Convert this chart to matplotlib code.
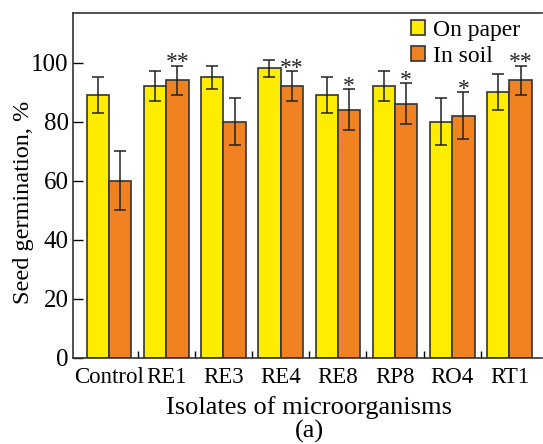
import matplotlib
matplotlib.use("Agg")
import matplotlib.pyplot as plt
import numpy as np

categories = ["Control", "RE1", "RE3", "RE4", "RE8", "RP8", "RO4", "RT1"]
paper = [89, 92, 95, 98, 89, 92, 80, 90]
paper_err = [6, 5, 4, 3, 6, 5, 8, 6]
soil = [60, 94, 80, 92, 84, 86, 82, 94]
soil_err = [10, 5, 8, 5, 7, 7, 8, 5]
soil_marks = ["", "**", "", "**", "*", "*", "*", "**"]
yticks = [0, 20, 40, 60, 80, 100]

plt.rcParams['font.family'] = ['Liberation Serif', 'DejaVu Serif']

W, H = 543, 444
fig = plt.figure(figsize=(W/100, H/100), dpi=100)
ax = fig.add_axes([73/W, 1-357.5/H, (542-73)/W, (357.5-13)/H])

x = np.arange(len(categories))
w = 0.39
yellow = "#FFED00"
orange = "#F08222"
edge = "#333333"
ekw = dict(ecolor="#222222", elinewidth=1.1, capsize=4, capthick=1.1)
ax.bar(x - w/2, paper, w, yerr=paper_err, color=yellow, edgecolor=edge,
       linewidth=1.2, error_kw=ekw, label="On paper", zorder=2)
ax.bar(x + w/2, soil, w, yerr=soil_err, color=orange, edgecolor=edge,
       linewidth=1.2, error_kw=ekw, label="In soil", zorder=2)

for xi, v, e, m in zip(x, soil, soil_err, soil_marks):
    if m:
        ax.text(xi + w/2, v + e + 1.0, m, ha='center', va='center',
                fontsize=17, color="#222222")

ax.set_xlim(-0.63, 7.57)
ax.set_ylim(0, 116.8)
ax.set_yticks(yticks)
ax.set_yticklabels([str(t) for t in yticks], fontsize=18)
ax.set_xticks(x)
ax.set_xticklabels(categories, fontsize=16.5)
ax.set_xticks(x[:-1] + 0.5, minor=True)
ax.tick_params(axis='x', which='major', length=0, pad=7)
ax.tick_params(axis='x', which='minor', direction='in', length=5, width=1)
ax.tick_params(axis='y', direction='in', length=7, width=1, pad=3)
for s in ['left', 'bottom', 'top']:
    ax.spines[s].set_linewidth(1.2)
    ax.spines[s].set_color("#333333")
ax.spines['right'].set_visible(False)

ax.set_ylabel("Seed germination, %", fontsize=17.5)
ax.yaxis.set_label_coords((34 - 73) / (542 - 73), (357.5 - 202) / (357.5 - 13))
fig.text(309/W, 1-408/H, "Isolates of microorganisms", fontsize=19,
         ha='center', va='center')
fig.text(309/W, 1-431/H, "(a)", fontsize=19, ha='center', va='center')

leg = fig.legend(loc='upper left', bbox_to_anchor=(411/W, 1-20/H), frameon=False,
                 fontsize=17, handlelength=0.6, handleheight=0.6,
                 handletextpad=0.35, labelspacing=0.2, borderpad=0,
                 borderaxespad=0)

fig.savefig("out.png", dpi=100)
